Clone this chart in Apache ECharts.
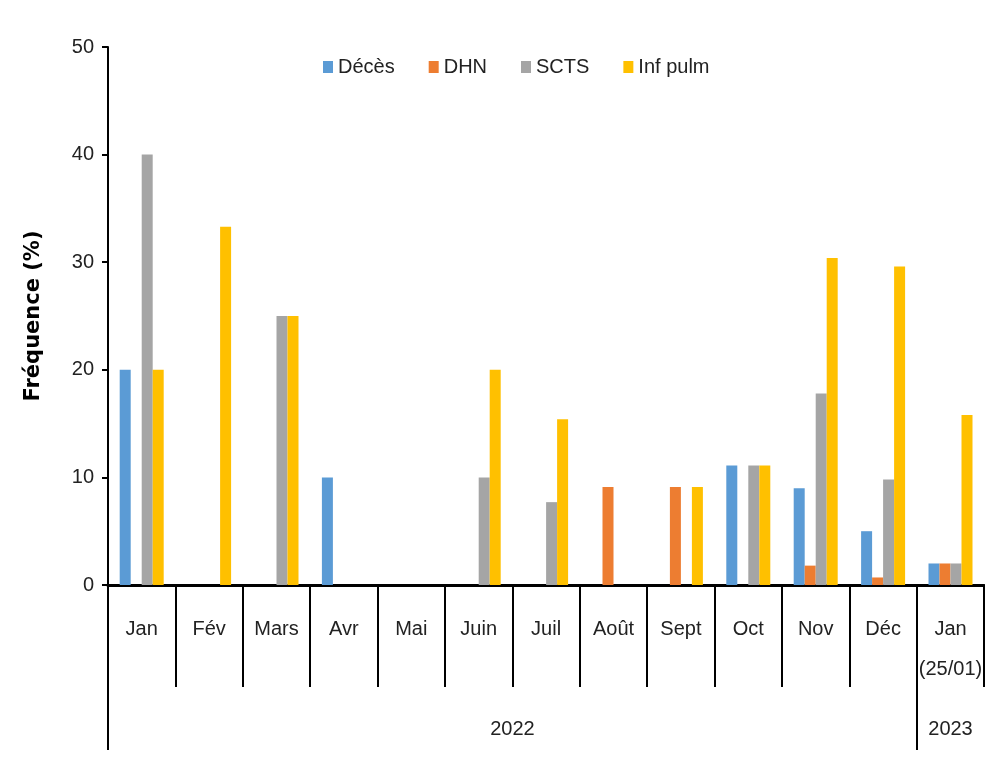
<!DOCTYPE html>
<html>
<head>
<meta charset="utf-8">
<script src="https://cdn.jsdelivr.net/npm/echarts@6/dist/echarts.min.js"></script>
<style>
  html, body { margin: 0; padding: 0; background: #fff; }
  #chart { width: 985px; height: 771px; }
</style>
</head>
<body>
<div id="chart"></div>
<script>
// months (13 categories, the last one is early 2023)
const months = ['Jan', 'Fév', 'Mars', 'Avr', 'Mai', 'Juin', 'Juil', 'Août', 'Sept', 'Oct', 'Nov', 'Déc', 'Jan\n(25/01)'];
const years = ['2022', '2023'];
const yearCenters = [6, 12.5];   // middle of each year group, in category units
const yearBounds = [0, 12];      // where each year group starts

const deces   = [20, 0, 0, 10, 0, 0, 0, 0, 0, 11.1, 9.0, 5.0, 2.0];
const dhn     = [0, 0, 0, 0, 0, 0, 0, 9.1, 9.1, 0, 1.8, 0.7, 2.0];
const scts    = [40, 0, 25, 0, 0, 10, 7.7, 0, 0, 11.1, 17.8, 9.8, 2.0];
const infPulm = [20, 33.3, 25, 0, 0, 20, 15.4, 0, 9.1, 11.1, 30.4, 29.6, 15.8];

const yTicks = [0, 10, 20, 30, 40, 50];

const font = "'Liberation Sans Narrow', 'Liberation Sans', sans-serif";

let chart = echarts.init(document.getElementById('chart'));

function bar(name, data, color) {
  return {
    name: name,
    type: 'bar',
    data: data,
    barWidth: 11,
    barGap: '0%',
    itemStyle: { color: color },
    xAxisIndex: 0,
    yAxisIndex: 0
  };
}

let options = {
  backgroundColor: '#fff',
  animation: false,
  textStyle: { fontFamily: font },
  legend: {
    top: 52,
    left: 318,
    icon: 'rect',
    itemWidth: 10,
    itemHeight: 12,
    itemGap: 34,
    textStyle: { fontFamily: font, fontSize: 20, color: '#222' },
    data: ['Décès', 'DHN', 'SCTS', 'Inf pulm']
  },
  grid: {
    left: 108,
    right: -4,
    top: 47,
    bottom: 186,
    containLabel: false
  },
  xAxis: [
    {
      type: 'category',
      data: months,
      position: 'bottom',
      boundaryGap: true,
      axisLine: { lineStyle: { color: '#000', width: 3 } },
      axisTick: { show: true, interval: 0, length: 102, lineStyle: { color: '#000', width: 2 } },
      axisLabel: {
        interval: 0,
        margin: 24,
        fontFamily: font,
        fontSize: 20,
        lineHeight: 40,
        color: '#222'
      }
    },
    {
      type: 'value',
      min: 0,
      max: 13,
      position: 'bottom',
      axisLine: { show: false },
      splitLine: { show: false },
      axisTick: {
        show: true,
        customValues: yearBounds,
        length: 165,
        lineStyle: { color: '#000', width: 2 }
      },
      axisLabel: {
        customValues: yearCenters,
        margin: 134,
        fontFamily: font,
        fontSize: 20,
        color: '#222',
        formatter: function (v) {
          let i = yearCenters.indexOf(v);
          return i >= 0 ? years[i] : '';
        }
      }
    }
  ],
  yAxis: {
    type: 'value',
    min: yTicks[0],
    max: yTicks[yTicks.length - 1],
    interval: 10,
    name: 'Fréquence (%)',
    nameLocation: 'middle',
    nameGap: 64,
    nameTextStyle: { fontFamily: "'DejaVu Sans', sans-serif", fontSize: 21, fontWeight: 'bold', color: '#000' },
    axisLine: { show: true, lineStyle: { color: '#000', width: 2 } },
    axisTick: { show: true, length: 6, lineStyle: { color: '#000', width: 2 } },
    splitLine: { show: false },
    axisLabel: { margin: 14, fontFamily: font, fontSize: 20, color: '#222' }
  },
  series: [
    bar('Décès', deces, '#5B9BD5'),
    bar('DHN', dhn, '#ED7D31'),
    bar('SCTS', scts, '#A5A5A5'),
    bar('Inf pulm', infPulm, '#FFC000')
  ]
};
chart.setOption(options);
</script>
</body>
</html>
